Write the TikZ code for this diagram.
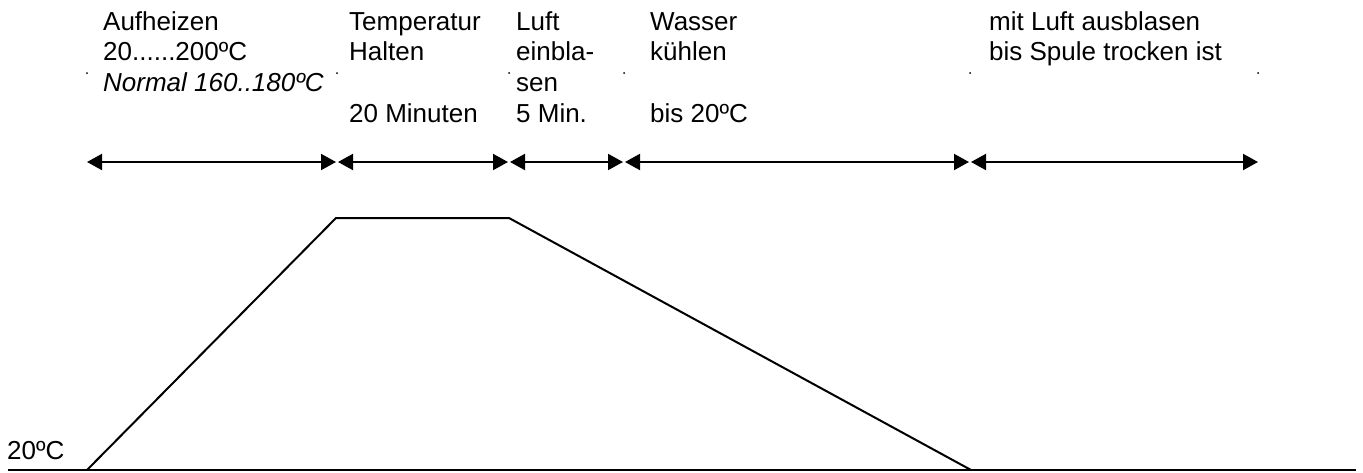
\documentclass[tikz,border=0pt]{standalone}
\usepackage{fontspec}
\setmainfont{Liberation Sans}
\usetikzlibrary{arrows.meta}
\begin{document}
\begin{tikzpicture}[x=1pt,y=-1pt,
  lbl/.style={anchor=base west, inner sep=0pt, font=\fontsize{26}{30.7}\selectfont},
  span/.style={line width=2pt,
    {Triangle[length=15pt,width=16pt]}-{Triangle[length=15pt,width=16pt]}},
  profile/.style={line width=2pt, line join=miter},
  tick/.style={circle, fill, inner sep=0pt, minimum size=2pt}]
\useasboundingbox (0,0) rectangle (1363,472);

% phase labels
\node[lbl] (heat) at (103,30) {\begin{tabular}[t]{@{}l@{}}Aufheizen\\20......200ºC\\\textit{Normal 160..180ºC}\end{tabular}};
\node[lbl] (hold) at (349,30) {\begin{tabular}[t]{@{}l@{}}Temperatur\\Halten\\ \\20 Minuten\end{tabular}};
\node[lbl] (air) at (516,30) {\begin{tabular}[t]{@{}l@{}}Luft\\einbla-\\sen\\5 Min.\end{tabular}};
\node[lbl] (water) at (650,30) {\begin{tabular}[t]{@{}l@{}}Wasser\\kühlen\\ \\bis 20ºC\end{tabular}};
\node[lbl] (dry) at (989,30) {\begin{tabular}[t]{@{}l@{}}mit Luft ausblasen\\bis Spule trocken ist\end{tabular}};

% small marks at the phase boundaries
\foreach \x/\n in {87/d0,337/d1,509/d2,624/d3,970/d4,1258/d5}
  \node[tick] (\n) at (\x,73) {};

% phase spans
\coordinate (s0) at (87,162);
\coordinate (s1) at (336,162);
\coordinate (s1b) at (338,162);
\coordinate (s2) at (508,162);
\coordinate (s2b) at (510,162);
\coordinate (s3) at (623,162);
\coordinate (s3b) at (625,162);
\coordinate (s4) at (969,162);
\coordinate (s4b) at (971,162);
\coordinate (s5) at (1258,162);
\draw[span] (s0) -- (s1);
\draw[span] (s1b) -- (s2);
\draw[span] (s2b) -- (s3);
\draw[span] (s3b) -- (s4);
\draw[span] (s4b) -- (s5);

% temperature profile
\coordinate (base0) at (8,470);
\coordinate (base1) at (1356,470);
\coordinate (r0) at (87,470);
\coordinate (r1) at (336,218);
\coordinate (r2) at (509,218);
\coordinate (r3) at (971,470);
\draw[profile] (base0) -- (base1);
\draw[profile] (r0) -- (r1) -- (r2) -- (r3);

\node[lbl] (t20) at (7,459) {20ºC};
\end{tikzpicture}
\end{document}
